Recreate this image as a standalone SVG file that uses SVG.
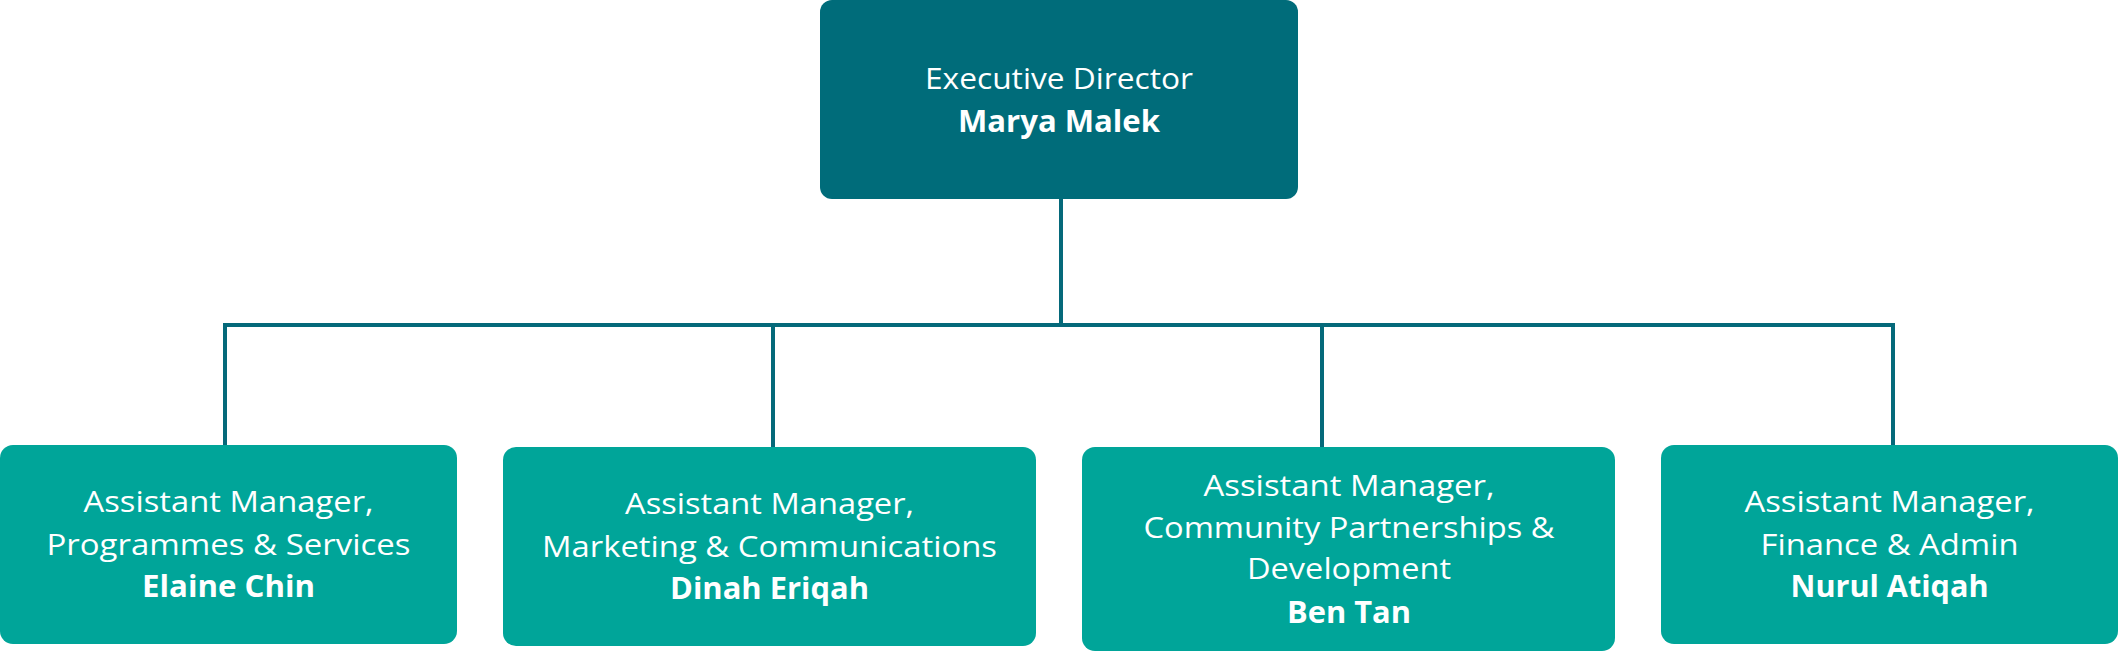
<svg xmlns="http://www.w3.org/2000/svg" width="2119" height="652" viewBox="0 0 2119 652">
  <style>
    .top { fill: #006c7a; }
    .box { fill: #00a599; }
    .conn { fill: none; stroke: #05697a; stroke-width: 4; stroke-linejoin: miter; stroke-linecap: butt; }
    .t { font-family: "Open Sans", "Noto Sans", "Liberation Sans", sans-serif; font-size: 30px; fill: #ffffff; text-anchor: middle; }
    .r { font-weight: 400; }
    .b { font-weight: 700; }
  </style>
  <rect width="2119" height="652" fill="#ffffff"/>
  <g id="connectors">
    <path class="conn" d="M1061 199 V325"/>
    <path class="conn" d="M225 445 V325 H1893 V445"/>
    <path class="conn" d="M773 325 V447"/>
    <path class="conn" d="M1322 325 V447"/>
  </g>
  <g id="executive-director">
    <rect class="top" x="820" y="0" width="478" height="199" rx="12" ry="12"/>
    <text class="t r" x="1059" y="89" textLength="268" lengthAdjust="spacingAndGlyphs">Executive Director</text>
    <text class="t b" x="1059" y="132" textLength="202" lengthAdjust="spacingAndGlyphs">Marya Malek</text>
  </g>
  <g id="programmes-services">
    <rect class="box" x="0" y="445" width="457" height="199" rx="13" ry="13"/>
    <text class="t r" x="228.5" y="512" textLength="290" lengthAdjust="spacingAndGlyphs">Assistant Manager,</text>
    <text class="t r" x="228.5" y="555" textLength="364" lengthAdjust="spacingAndGlyphs">Programmes &amp; Services</text>
    <text class="t b" x="228.5" y="597" textLength="173" lengthAdjust="spacingAndGlyphs">Elaine Chin</text>
  </g>
  <g id="marketing-communications">
    <rect class="box" x="503" y="447" width="533" height="199" rx="13" ry="13"/>
    <text class="t r" x="769.5" y="514" textLength="289" lengthAdjust="spacingAndGlyphs">Assistant Manager,</text>
    <text class="t r" x="769.5" y="557" textLength="455" lengthAdjust="spacingAndGlyphs">Marketing &amp; Communications</text>
    <text class="t b" x="769.5" y="599" textLength="199" lengthAdjust="spacingAndGlyphs">Dinah Eriqah</text>
  </g>
  <g id="community-partnerships">
    <rect class="box" x="1082" y="447" width="533" height="204" rx="13" ry="13"/>
    <text class="t r" x="1349" y="496" textLength="291" lengthAdjust="spacingAndGlyphs">Assistant Manager,</text>
    <text class="t r" x="1349" y="538" textLength="411" lengthAdjust="spacingAndGlyphs">Community Partnerships &amp;</text>
    <text class="t r" x="1349" y="579" textLength="204" lengthAdjust="spacingAndGlyphs">Development</text>
    <text class="t b" x="1349" y="623" textLength="124" lengthAdjust="spacingAndGlyphs">Ben Tan</text>
  </g>
  <g id="finance-admin">
    <rect class="box" x="1661" y="445" width="457" height="199" rx="13" ry="13"/>
    <text class="t r" x="1889.5" y="512" textLength="290" lengthAdjust="spacingAndGlyphs">Assistant Manager,</text>
    <text class="t r" x="1889.5" y="555" textLength="258" lengthAdjust="spacingAndGlyphs">Finance &amp; Admin</text>
    <text class="t b" x="1889.5" y="597" textLength="198" lengthAdjust="spacingAndGlyphs">Nurul Atiqah</text>
  </g>
</svg>
